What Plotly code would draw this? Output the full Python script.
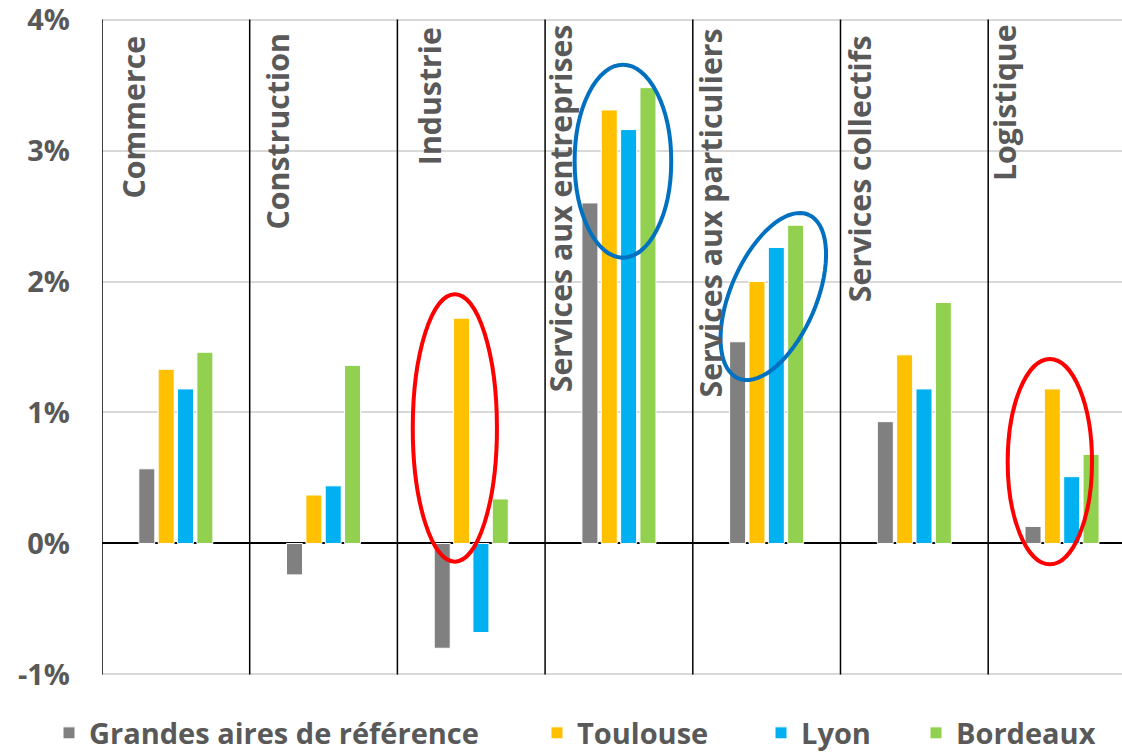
import math
import plotly.graph_objects as go

categories = ["Commerce", "Construction", "Industrie", "Services aux entreprises",
              "Services aux particuliers", "Services collectifs", "Logistique"]
series_names = ["Grandes aires de référence", "Toulouse", "Lyon", "Bordeaux"]
grandes_aires = [0.57, -0.24, -0.80, 2.60, 1.54, 0.93, 0.13]
toulouse = [1.33, 0.37, 1.72, 3.31, 2.00, 1.44, 1.18]
lyon = [1.18, 0.44, -0.68, 3.16, 2.26, 1.18, 0.51]
bordeaux = [1.46, 1.36, 0.34, 3.48, 2.43, 1.84, 0.68]
colors = ["#808080", "#FFC000", "#00B0F0", "#92D050"]
tick_vals = [-1, 0, 1, 2, 3, 4]
tick_text = ["-1%", "0%", "1%", "2%", "3%", "4%"]

W, H = 1122, 753
UNIT = 130.9            # pixels per 1 %
Y_TOP_PX = 20.0         # pixel row of 4 %
PAD = 0.05              # extra range beyond -1 .. 4
Y_RANGE = [-1 - PAD, 4 + PAD]
L = 102
R = 0
T = Y_TOP_PX - PAD * UNIT
PH = (Y_RANGE[1] - Y_RANGE[0]) * UNIT
B = H - T - PH
PW = W - L - R
FONT = "Open Sans"
TXT = "#595959"

def px_x(px):
    return (px - L) / PW

def px_y(py):
    return (T + PH - py) / PH

fig = go.Figure()
legends = ["legend", "legend2", "legend3", "legend4"]
for name, vals, col, lg in zip(series_names, [grandes_aires, toulouse, lyon, bordeaux], colors, legends):
    fig.add_trace(go.Bar(x=categories, y=vals, name=name, marker_color=col,
                         marker_line=dict(color="white", width=1), legend=lg))

# category separators
shapes = []
for i in range(len(categories)):
    shapes.append(dict(type="line", xref="x", yref="y", x0=i - 0.5, x1=i - 0.5, y0=-1, y1=4,
                       line=dict(color="black", width=1.5), layer="above"))

# highlight ellipses
shapes.append(dict(type="circle", xref="x", yref="y", x0=1.604, x1=2.174, y0=-0.139, y1=1.903,
                   line=dict(color="#FF0000", width=4)))
shapes.append(dict(type="circle", xref="x", yref="y", x0=2.700, x1=3.354, y0=2.182, y1=3.654,
                   line=dict(color="#0070C0", width=4)))
shapes.append(dict(type="circle", xref="x", yref="y", x0=5.632, x1=6.203, y0=-0.159, y1=1.408,
                   line=dict(color="#FF0000", width=4)))
# tilted ellipse (pixel geometry -> paper)
cx, cy, a, b, th = 773.3, 296.8, 89.0, 42.8, math.radians(66.7)
pts = []
for k in range(73):
    t = 2 * math.pi * k / 72
    ux = a * math.cos(th) * math.cos(t) - b * math.sin(th) * math.sin(t)
    uy = a * math.sin(th) * math.cos(t) + b * math.cos(th) * math.sin(t)
    pts.append((px_x(cx + ux), px_y(cy - uy)))
path = "M " + " L ".join(f"{x:.5f},{y:.5f}" for x, y in pts) + " Z"
shapes.append(dict(type="path", xref="paper", yref="paper", path=path,
                   line=dict(color="#0070C0", width=4)))

# category labels (rotated)
label_pos = [(121, 36), (265, 33), (416.5, 27.6), (547.7, 24.5), (698, 29), (847, 35.6), (992, 24.5)]
annotations = []
for cat, (lx, ty) in zip(categories, label_pos):
    annotations.append(dict(text=f"<b>{cat}</b>", xref="paper", yref="paper",
                            x=px_x(lx - 10), y=px_y(ty - 2), xanchor="left", yanchor="top",
                            textangle=-90, showarrow=False,
                            font=dict(family=FONT, size=30.3, color=TXT)))

leg_x = [49, 537, 761, 916]
layout_legends = {}
for lg, lx in zip(legends, leg_x):
    layout_legends[lg] = dict(xref="container", yref="container", x=lx / W, y=1 - 733 / H,
                              xanchor="left", yanchor="middle",
                              orientation="h", bgcolor="rgba(0,0,0,0)",
                              font=dict(family=FONT, size=29, color=TXT, weight="bold"))

fig.update_layout(
    width=W, height=H,
    margin=dict(l=L, r=R, t=T, b=B, autoexpand=False),
    paper_bgcolor="white", plot_bgcolor="white",
    barmode="group", bargap=0.476, bargroupgap=0.172,
    showlegend=True,
    shapes=shapes, annotations=annotations,
    font=dict(family=FONT, color=TXT),
    xaxis=dict(range=[-0.5, 6.406], showticklabels=False, showgrid=False, zeroline=False,
               showline=False, ticks="", automargin=False),
    yaxis=dict(range=Y_RANGE, tickmode="array", tickvals=tick_vals, ticktext=tick_text,
               showgrid=True, gridcolor="#D9D9D9", gridwidth=1.5, zeroline=True,
               zerolinecolor="black", zerolinewidth=1.5, showline=False, ticks="",
               ticklabelstandoff=31, ticklabeloverflow="allow", automargin=False,
               tickfont=dict(family=FONT, size=29, color=TXT, weight="bold")),
    **layout_legends,
)

fig.write_html("out.html", config={"displayModeBar": False},
               post_script="document.body.style.margin='0';")
